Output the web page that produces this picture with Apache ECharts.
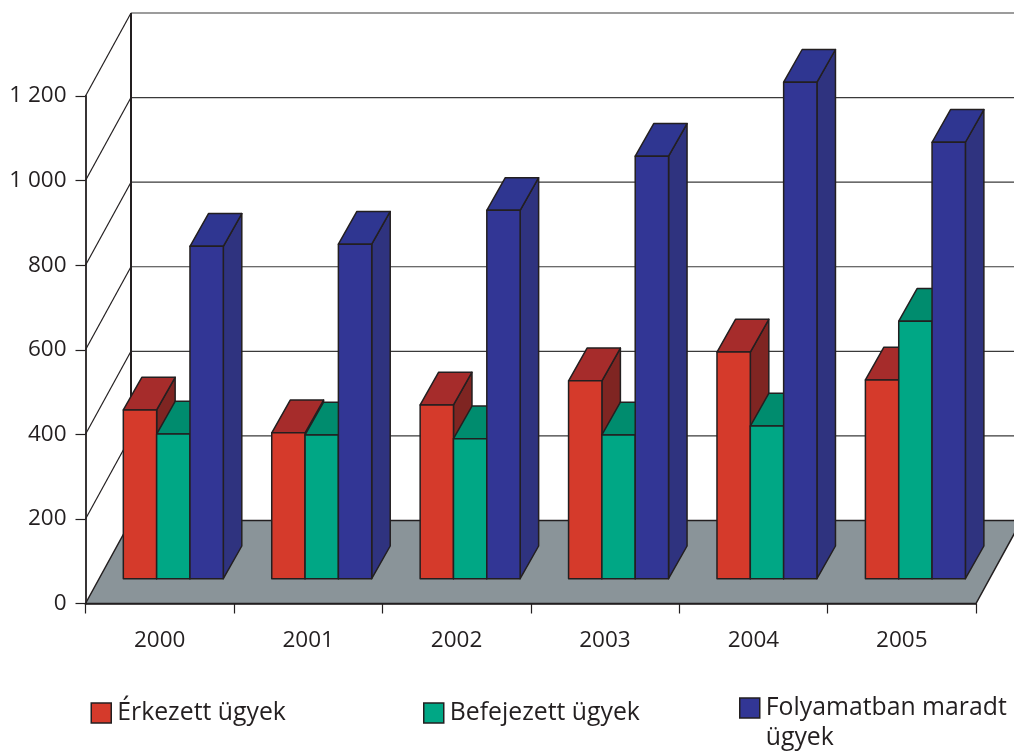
<!DOCTYPE html>
<html>
<head>
<meta charset="utf-8">
<style>
  html, body { margin: 0; padding: 0; background: #fff; }
  #chart { width: 1014px; height: 753px; }
</style>
<script src="https://cdn.jsdelivr.net/npm/echarts@6/dist/echarts.min.js"></script>
</head>
<body>
<div id="chart"></div>
<script>
const years = ['2000', '2001', '2002', '2003', '2004', '2005'];
const erkezett = [399, 345, 411, 468, 536, 470];
const befejezett = [342, 340, 331, 340, 361, 609];
const folyamatban = [786, 791, 871, 999, 1174, 1032];
const yTicks = [0, 200, 400, 600, 800, 1000, 1200];

const INK = '#231f20';
const FONT = '"Open Sans", sans-serif';
// depth of the fake 3d box, in px
const WALL_DX = 45.5, WALL_DY = 83;
const BAR_DX = 18.5, BAR_DY = 32.7;
const FRONT_DX = 13.7, FRONT_DY = 24.8;
const BAR_START = 24.1 / 148.3, BAR_W = 33.3 / 148.3;
const LEGEND_LINE = 30;

function wallItem(params, api) {
  const sys = params.coordSys;
  const v = api.value(1);
  const p = api.coord([0, v]);
  const left = sys.x;
  const right = sys.x + sys.width;
  const children = [];
  if (v === 0) {
    children.push({
      type: 'polygon',
      shape: { points: [[left, p[1]], [left + WALL_DX, p[1] - WALL_DY], [right + WALL_DX, p[1] - WALL_DY], [right, p[1]]] },
      style: { fill: '#8a9499', stroke: INK, lineWidth: 1.5 }
    });
  } else {
    children.push({
      type: 'line',
      shape: { x1: left, y1: p[1], x2: left + WALL_DX, y2: p[1] - WALL_DY },
      style: { stroke: INK, lineWidth: 1.2 }
    });
    children.push({
      type: 'line',
      shape: { x1: left + WALL_DX, y1: p[1] - WALL_DY, x2: right + WALL_DX, y2: p[1] - WALL_DY },
      style: { stroke: '#3a3a3a', lineWidth: 1.2 }
    });
  }
  if (v === yTicks[yTicks.length - 1]) {
    const zero = api.coord([0, 0]);
    children.push({
      type: 'line',
      shape: { x1: left + WALL_DX, y1: p[1] - WALL_DY, x2: left + WALL_DX, y2: zero[1] - WALL_DY },
      style: { stroke: INK, lineWidth: 2 }
    });
  }
  return { type: 'group', children: children };
}

function barRenderer(slot, front, top, side) {
  return function (params, api) {
    const cat = api.value(0);
    const band = api.size([1, 0])[0];
    const base = api.coord([cat, 0]);
    const head = api.coord([cat, api.value(1)]);
    const w = band * BAR_W;
    const x0 = base[0] - band / 2 + band * BAR_START + FRONT_DX + slot * w;
    const x1 = x0 + w;
    const yb = base[1] - FRONT_DY;
    const yt = head[1] - FRONT_DY;
    const line = { stroke: INK, lineWidth: 1.5, lineJoin: 'round' };
    return {
      type: 'group',
      children: [
        {
          type: 'polygon',
          shape: { points: [[x1, yb], [x1 + BAR_DX, yb - BAR_DY], [x1 + BAR_DX, yt - BAR_DY], [x1, yt]] },
          style: Object.assign({ fill: side }, line)
        },
        {
          type: 'polygon',
          shape: { points: [[x0, yt], [x0 + BAR_DX, yt - BAR_DY], [x1 + BAR_DX, yt - BAR_DY], [x1, yt]] },
          style: Object.assign({ fill: top }, line)
        },
        {
          type: 'polygon',
          shape: { points: [[x0, yb], [x0, yt], [x1, yt], [x1, yb]] },
          style: Object.assign({ fill: front }, line)
        }
      ]
    };
  };
}

function barSeries(name, values, slot, front, top, side) {
  return {
    name: name,
    type: 'custom',
    coordinateSystem: 'cartesian2d',
    clip: false,
    z: 3,
    itemStyle: { color: front },
    encode: { x: 0, y: 1 },
    data: values.map((v, i) => [i, v]),
    renderItem: barRenderer(slot, front, top, side)
  };
}

function legendAt(name, left, text) {
  const multi = !!text;
  return {
    left: left,
    // label is centred on its icon: a blank first line keeps the real first line level with it
    top: multi ? 698 - (LEGEND_LINE * 3 - 20) / 2 : 698,
    padding: 0,
    itemWidth: 20,
    itemHeight: 20,
    itemGap: 0,
    icon: 'rect',
    selectedMode: false,
    data: [name],
    itemStyle: { borderColor: INK, borderWidth: 1.5 },
    formatter: multi ? () => ' \n' + text : undefined,
    textStyle: {
      color: INK,
      fontFamily: FONT,
      fontSize: 24.8,
      lineHeight: LEGEND_LINE,
      padding: [0, 0, 0, 1]
    }
  };
}

const chart = echarts.init(document.getElementById('chart'), null, { renderer: 'canvas' });
chart.setOption({
  animation: false,
  backgroundColor: '#fff',
  textStyle: { fontFamily: FONT },
  grid: { left: 85.5, right: 38, top: 96, height: 507.5 },
  legend: [
    legendAt('Érkezett ügyek', 90.5),
    legendAt('Befejezett ügyek', 423),
    legendAt('Folyamatban maradt ügyek', 739, 'Folyamatban maradt\nügyek')
  ],
  xAxis: {
    type: 'category',
    data: years,
    boundaryGap: true,
    z: 4,
    axisLine: { lineStyle: { color: INK, width: 1.5 } },
    axisTick: { show: true, length: 10, lineStyle: { color: INK, width: 1.2 } },
    axisLabel: { color: INK, fontFamily: FONT, fontSize: 22.5, margin: 26 }
  },
  yAxis: {
    type: 'value',
    min: 0,
    max: 1200,
    interval: 200,
    z: 4,
    axisLine: { show: true, lineStyle: { color: INK, width: 1.8 } },
    axisTick: { show: true, length: 10, lineStyle: { color: INK, width: 1.2 } },
    axisLabel: {
      color: INK,
      fontFamily: FONT,
      fontSize: 22.5,
      margin: 19,
      formatter: v => String(v).replace(/\B(?=(\d{3})+$)/, ' ')
    },
    splitLine: { show: false }
  },
  series: [
    {
      name: 'fal',
      type: 'custom',
      coordinateSystem: 'cartesian2d',
      clip: false,
      z: 1,
      silent: true,
      encode: { x: 0, y: 1 },
      data: yTicks.map(v => [0, v]),
      renderItem: wallItem
    },
    barSeries('Érkezett ügyek', erkezett, 0, '#d53a2b', '#a62c2b', '#7f2522'),
    barSeries('Befejezett ügyek', befejezett, 1, '#00a785', '#008c6e', '#00735c'),
    barSeries('Folyamatban maradt ügyek', folyamatban, 2, '#323695', '#2f3691', '#2f337f')
  ]
});
</script>
</body>
</html>
